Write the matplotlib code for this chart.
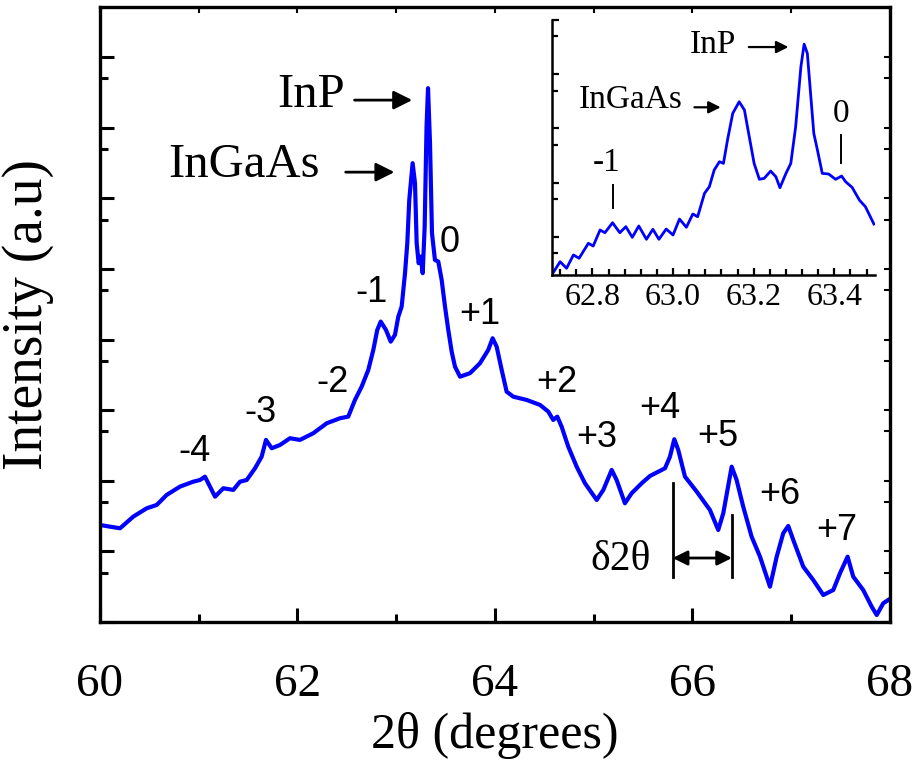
import matplotlib
matplotlib.use("Agg")
import matplotlib.pyplot as plt
from matplotlib.ticker import FixedLocator

SERIF = "Liberation Serif"
SANS = "Liberation Sans"
BLUE = "#0000ff"

# full scan: 2theta (deg) vs intensity (log decades, arbitrary offset)
two_theta = [60.000, 60.101, 60.203, 60.337, 60.473, 60.574, 60.675, 60.810, 60.945,
             61.013, 61.063, 61.114, 61.165, 61.249, 61.350, 61.418, 61.486, 61.570,
             61.637, 61.681, 61.739, 61.823, 61.924, 62.025, 62.160, 62.296, 62.430,
             62.514, 62.582, 62.650, 62.717, 62.768, 62.808, 62.843, 62.896, 62.944,
             62.987, 63.021, 63.055, 63.089, 63.112, 63.132, 63.166, 63.190, 63.207,
             63.227, 63.248, 63.268, 63.288, 63.307, 63.322, 63.342, 63.362, 63.392,
             63.426, 63.460, 63.494, 63.527, 63.562, 63.595, 63.646, 63.747, 63.848,
             63.932, 63.976, 64.017, 64.068, 64.118, 64.185, 64.321, 64.456, 64.540,
             64.590, 64.631, 64.675, 64.742, 64.827, 64.911, 65.030, 65.097, 65.182,
             65.232, 65.316, 65.384, 65.486, 65.570, 65.722, 65.772, 65.816, 65.856,
             65.924, 66.043, 66.177, 66.261, 66.312, 66.397, 66.447, 66.514, 66.599,
             66.684, 66.785, 66.853, 66.919, 66.970, 67.021, 67.122, 67.223, 67.325,
             67.426, 67.494, 67.571, 67.628, 67.729, 67.815, 67.866, 67.932, 67.982]
intensity = [1.374, 1.350, 1.327, 1.492, 1.610, 1.657, 1.799, 1.917, 1.987,
             2.011, 2.058, 1.917, 1.775, 1.894, 1.870, 1.987, 2.011, 2.177,
             2.341, 2.578, 2.460, 2.507, 2.602, 2.578, 2.673, 2.814, 2.885,
             2.908, 3.144, 3.333, 3.569, 3.853, 4.136, 4.254, 4.136, 3.970,
             4.065, 4.324, 4.466, 4.939, 5.364, 5.977, 6.497, 6.214, 5.364,
             5.081, 5.174, 4.939, 5.599, 7.016, 7.559, 6.780, 5.506, 5.127,
             5.103, 4.844, 4.466, 4.136, 3.824, 3.616, 3.474, 3.523, 3.664,
             3.853, 4.018, 3.899, 3.569, 3.262, 3.191, 3.144, 3.074, 2.979,
             2.861, 2.908, 2.766, 2.483, 2.200, 1.965, 1.728, 1.870, 2.153,
             2.011, 1.681, 1.823, 1.965, 2.068, 2.177, 2.341, 2.588, 2.436,
             2.058, 1.846, 1.586, 1.303, 1.540, 2.200, 2.011, 1.633, 1.208,
             0.925, 0.500, 0.925, 1.256, 1.360, 1.161, 0.783, 0.595, 0.382,
             0.453, 0.690, 0.925, 0.642, 0.453, 0.217, 0.099, 0.265, 0.312]

# close-up around the substrate / layer peaks
zoom_theta = [62.699, 62.720, 62.736, 62.753, 62.767, 62.790, 62.802, 62.819, 62.831,
              62.850, 62.868, 62.883, 62.899, 62.915, 62.934, 62.950, 62.965, 62.983,
              63.000, 63.016, 63.033, 63.049, 63.061, 63.078, 63.090, 63.102, 63.115,
              63.125, 63.135, 63.148, 63.164, 63.177, 63.189, 63.201, 63.214, 63.226,
              63.242, 63.255, 63.265, 63.280, 63.292, 63.304, 63.317, 63.325, 63.333,
              63.341, 63.349, 63.358, 63.370, 63.386, 63.403, 63.418, 63.428, 63.444,
              63.462, 63.477, 63.498]
zoom_int = [-0.700, -0.455, -0.576, -0.331, -0.392, -0.116, -0.166, 0.129, 0.079,
            0.263, 0.079, 0.190, -0.006, 0.203, -0.042, 0.142, -0.042, 0.147,
            0.037, 0.331, 0.179, 0.424, 0.374, 0.805, 0.926, 1.234, 1.387,
            1.357, 1.786, 2.278, 2.492, 2.339, 1.847, 1.357, 1.063, 1.081,
            1.215, 1.110, 0.908, 1.173, 1.357, 2.031, 3.136, 3.554, 3.383,
            2.646, 1.910, 1.602, 1.173, 1.160, 1.063, 1.123, 1.018, 0.915,
            0.681, 0.558, 0.239]

# satellite order labels (label, 2theta, intensity)
orders = [("-4", 60.96, 2.41), ("-3", 61.62, 2.96), ("-2", 62.36, 3.385),
          ("-1", 62.754, 4.66), ("0", 63.544, 5.38), ("+1", 63.848, 4.35),
          ("+2", 64.63, 3.385), ("+3", 65.03, 2.61), ("+4", 65.67, 3.03),
          ("+5", 66.26, 2.63), ("+6", 66.886, 1.80), ("+7", 67.463, 1.30)]

main_major = [0, 1, 2, 3, 4, 5, 6, 7, 8]
main_minor = [k - 0.301 for k in range(1, 9)]
zoom_major = [0, 1, 2, 3, 4]
zoom_minor = [k - 0.301 for k in range(0, 5)]

fig = plt.figure(figsize=(9.14, 7.66), dpi=100)
ax = fig.add_axes([0.1094, 0.188, 0.8643, 0.803])
ax.plot(two_theta, intensity, color=BLUE, lw=3, solid_joinstyle="round")
ax.set_xlim(60, 68)
ax.set_ylim(0, 8.71)
ax.set_xticks([60, 62, 64, 66, 68])
ax.set_xticks([61, 63, 65, 67], minor=True)
ax.yaxis.set_major_locator(FixedLocator(main_major))
ax.yaxis.set_minor_locator(FixedLocator(main_minor))
ax.tick_params(which="both", direction="in", width=2.2, labelleft=False)
ax.tick_params(which="major", length=10)
ax.tick_params(which="minor", length=6)
ax.tick_params(axis="x", pad=30, labelsize=34)
for lab in ax.get_xticklabels():
    lab.set_family(SERIF)
for s in ax.spines.values():
    s.set_linewidth(2.4)

# short ticks on the opposite sides
top = ax.secondary_xaxis("top")
top.set_xticks([60, 61, 62, 63, 64, 65, 66, 67, 68])
top.tick_params(direction="in", length=4, width=1.5, labeltop=False)
right = ax.secondary_yaxis("right")
right.yaxis.set_major_locator(FixedLocator(main_major + main_minor))
right.tick_params(direction="in", length=4, width=1.5, labelright=False)

ax.set_xlabel("2θ (degrees)", family=SERIF, fontsize=36, labelpad=4)
ax.set_ylabel("Intensity (a.u)", family=SERIF, fontsize=40)
ax.yaxis.set_label_coords(-0.058, 0.5)

arrow = dict(arrowstyle="-|>", color="black", lw=2, mutation_scale=28)
ax.text(62.48, 7.46, "InP", family=SERIF, fontsize=35, ha="right", va="center")
ax.annotate("", xy=(63.19, 7.39), xytext=(62.55, 7.39), arrowprops=arrow)
ax.text(62.23, 6.47, "InGaAs", family=SERIF, fontsize=35, ha="right", va="center")
ax.annotate("", xy=(63.01, 6.37), xytext=(62.46, 6.37), arrowprops=arrow)

for lab, x, y in orders:
    ax.text(x, y, lab, family=SANS, fontsize=26, ha="center", va="center")

# satellite spacing marker between +4 and +5
ax.plot([65.80, 65.80], [0.64, 1.97], color="black", lw=2)
ax.plot([66.40, 66.40], [0.64, 1.52], color="black", lw=2)
ax.annotate("", xy=(65.80, 0.906), xytext=(66.40, 0.906),
            arrowprops=dict(arrowstyle="<|-|>", color="black", lw=2, mutation_scale=22,
                            shrinkA=0, shrinkB=0))
ax.text(65.27, 0.88, "δ2θ", family=SERIF, fontsize=30, ha="center", va="center")

# inset
ins = fig.add_axes([0.604, 0.641, 0.353, 0.333])
ins.plot(zoom_theta, zoom_int, color=BLUE, lw=2, solid_joinstyle="round")
ins.set_xlim(62.7, 63.5)
ins.set_ylim(-0.7, 4.0)
ins.set_xticks([62.8, 63.0, 63.2, 63.4])
ins.set_xticklabels(["62.8", "63.0", "63.2", "63.4"], family=SERIF, fontsize=23)
ins.xaxis.set_minor_locator(FixedLocator([62.72 + 0.04 * i for i in range(20)]))
ins.yaxis.set_major_locator(FixedLocator(zoom_major))
ins.yaxis.set_minor_locator(FixedLocator(zoom_minor))
ins.tick_params(which="both", direction="in", width=1.6, labelleft=False, pad=6)
ins.tick_params(which="major", length=5)
ins.tick_params(which="minor", length=4)
ins.spines["top"].set_visible(False)
ins.spines["right"].set_visible(False)
for side in ("left", "bottom"):
    ins.spines[side].set_linewidth(1.8)
ins.patch.set_alpha(0)

small_arrow = dict(arrowstyle="-|>", color="black", lw=1.6, mutation_scale=18)
ins.text(63.157, 3.54, "InP", family=SERIF, fontsize=24, ha="right", va="center")
ins.annotate("", xy=(63.293, 3.50), xytext=(63.181, 3.50), arrowprops=small_arrow)
ins.text(63.023, 2.52, "InGaAs", family=SERIF, fontsize=24, ha="right", va="center")
ins.annotate("", xy=(63.125, 2.39), xytext=(63.046, 2.39), arrowprops=small_arrow)
ins.text(62.836, 1.36, "-1", family=SERIF, fontsize=24, ha="center", va="center")
ins.plot([62.851, 62.851], [0.53, 0.96], color="black", lw=1.4)
ins.text(63.416, 2.28, "0", family=SERIF, fontsize=24, ha="center", va="center")
ins.plot([63.416, 63.416], [1.36, 1.88], color="black", lw=1.4)

fig.savefig("out.png", dpi=100)
